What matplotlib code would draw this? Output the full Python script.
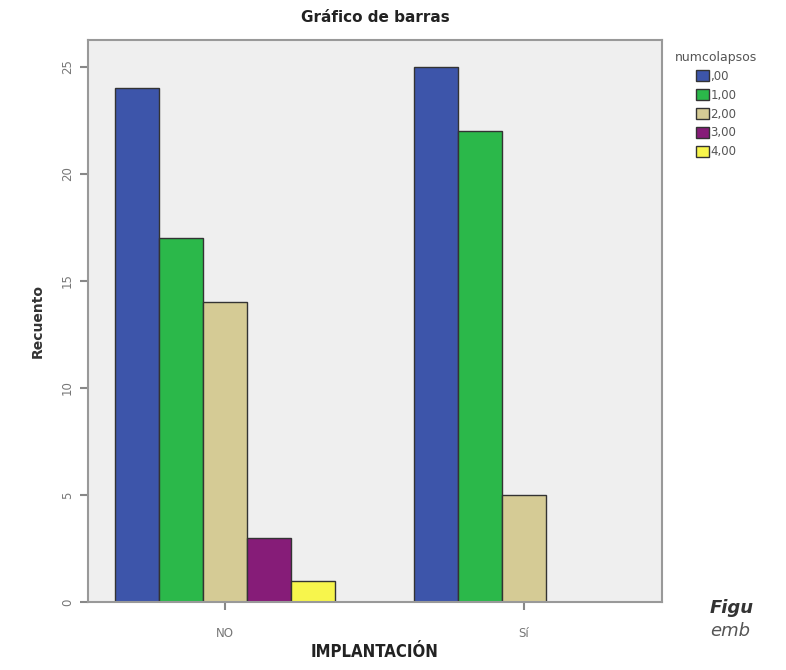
import numpy as np
import matplotlib.pyplot as plt

groups = ['NO', 'Sí']
levels = [',00', '1,00', '2,00', '3,00', '4,00']
counts = {
    ',00': [24, 25],
    '1,00': [17, 22],
    '2,00': [14, 5],
    '3,00': [3, 0],
    '4,00': [1, 0],
}
colors = ['#3d55aa', '#2bb84a', '#d5cb95', '#861c78', '#f7f54c']

fig = plt.figure(figsize=(7.86, 6.70), dpi=100)
ax = fig.add_axes([0.112, 0.1015, 0.73, 0.8385])
ax.set_facecolor('#efefef')

x = np.arange(len(groups))
w = 0.147
for i, lev in enumerate(levels):
    vals = counts[lev]
    ax.bar(x + (i - 2) * w, vals, w, color=colors[i], edgecolor='#333333',
           linewidth=1.0, label=lev, zorder=2)

ax.set_xlim(-0.458, 1.462)
ax.set_ylim(0, 26.25)
ax.set_yticks([0, 5, 10, 15, 20, 25])
ax.set_xticks(x)
ax.set_xticklabels(groups)
ax.tick_params(axis='both', colors='#888888', labelcolor='#777777', labelsize=8.5,
               length=6, width=1.5, direction='out')
ax.tick_params(axis='x', pad=12)
ax.tick_params(axis='y', rotation=90, pad=4)
for lab in ax.get_yticklabels():
    lab.set_va('center')
for s in ax.spines.values():
    s.set_color('#999999')
    s.set_linewidth(1.5)

ax.set_title('Gráfico de barras', fontsize=11, fontweight='bold', color='#222222', pad=13)
ax.set_ylabel('Recuento', fontsize=10, fontweight='bold', color='#333333', labelpad=12)
fig.text(0.477, 0.027, 'IMPLANTACIÓN', fontsize=12, fontweight='bold',
         fontstretch='condensed', color='#222222', ha='center', va='center')

leg = ax.legend(title='numcolapsos', loc='upper left', bbox_to_anchor=(1.005, 1.0),
                frameon=False, fontsize=8.5, title_fontsize=9,
                handlelength=1.1, handleheight=1.1, handletextpad=0.1,
                labelspacing=0.5, labelcolor='#555555')
leg.get_title().set_color('#555555')

fig.text(0.903, 0.085, 'Figu', fontsize=13, fontstyle='italic', fontweight='bold',
         color='#333333')
fig.text(0.903, 0.05, 'emb', fontsize=13, fontstyle='italic', color='#555555')

fig.savefig('out.png', dpi=100)
